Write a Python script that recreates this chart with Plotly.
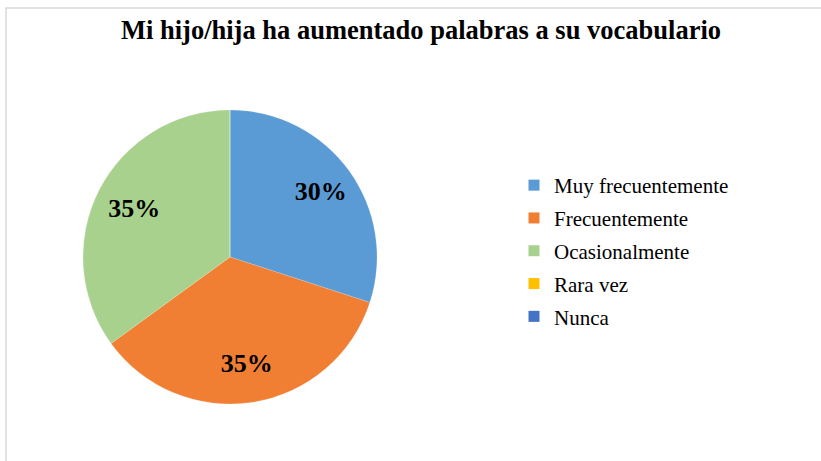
import plotly.graph_objects as go

categories = ["Muy frecuentemente", "Frecuentemente", "Ocasionalmente", "Rara vez", "Nunca"]
values = [30, 35, 35, 0, 0]
colors = ["#5B9BD5", "#F07F33", "#A9D18E", "#FFC000", "#4472C4"]
title_text = "Mi hijo/hija ha aumentado palabras a su vocabulario"

W, H = 821, 461
total = sum(values)
labels_text = [f"{round(v * 100 / total)}%" if v > 0 else "" for v in values]

CX, CY, R = 230, 257, 147   # pie centre / radius in pixels
RT = 203                    # radius of the transparent label layer

fig = go.Figure()
fig.add_trace(go.Pie(
    labels=categories, values=values, sort=False, direction="clockwise", rotation=0,
    marker=dict(colors=colors, line=dict(color="rgba(255,255,255,0.3)", width=0.5)),
    textinfo="none", showlegend=False, hoverinfo="label+percent",
    domain=dict(x=[(CX - R) / W, (CX + R) / W], y=[(H - CY - R) / H, (H - CY + R) / H]),
))
# transparent layer that carries the percentage labels further out
fig.add_trace(go.Pie(
    labels=categories, values=values, sort=False, direction="clockwise", rotation=0,
    marker=dict(colors=["rgba(0,0,0,0)"] * len(values), line=dict(width=0)),
    text=labels_text, textinfo="text", textposition="inside",
    insidetextorientation="horizontal",
    textfont=dict(family="Liberation Serif", size=26, color="black", weight="bold"),
    showlegend=False, hoverinfo="skip",
    domain=dict(x=[(CX - RT) / W, (CX + RT) / W], y=[(H - CY - RT) / H, (H - CY + RT) / H]),
))

for i, (c, col) in enumerate(zip(categories, colors)):
    fig.add_trace(go.Scatter(
        x=[None], y=[None], mode="markers", name=c, legendgroup=f"g{i}",
        marker=dict(symbol="square", size=11, color=col),
    ))

fig.add_shape(type="rect", xref="paper", yref="paper",
              x0=6 / W, x1=1.02, y0=-0.02, y1=1 - 8 / H,
              line=dict(color="#D9D9D9", width=1.5), fillcolor="rgba(0,0,0,0)")

fig.update_layout(
    width=W, height=H,
    margin=dict(l=0, r=0, t=0, b=0),
    paper_bgcolor="white", plot_bgcolor="white",
    title=dict(text=title_text, x=421 / W, xanchor="center", y=1 - 30 / H, yanchor="middle",
               font=dict(family="Liberation Serif", size=26.5, color="black", weight="bold")),
    xaxis=dict(visible=False), yaxis=dict(visible=False),
    legend=dict(x=514 / W, xanchor="left", y=1 - 165 / H, yanchor="top",
                font=dict(family="Liberation Serif", size=21, color="black"),
                tracegroupgap=2.5, itemwidth=30, bgcolor="rgba(0,0,0,0)"),
)

fig.write_html("out.html", config={"displayModeBar": False},
               post_script="document.body.style.margin='0';")
